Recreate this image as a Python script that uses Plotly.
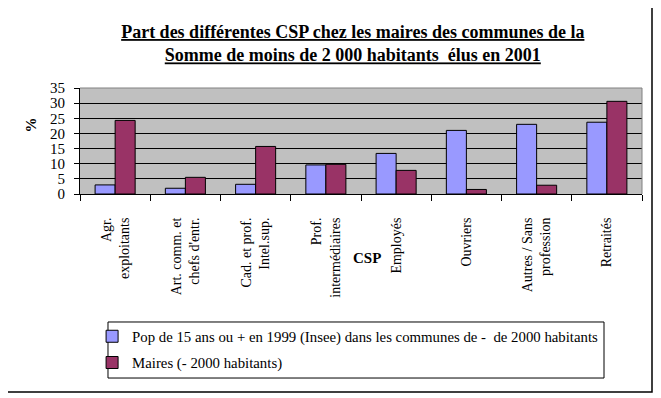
import plotly.graph_objects as go

categories = [
    "Agr.<br>exploitants",
    "Art. comm. et<br>chefs d'entr.",
    "Cad. et prof.<br>Intel.sup.",
    "Prof.<br>intermédiaires",
    "Employés",
    "Ouvriers",
    "Autres / Sans<br>profession",
    "Retraités",
]
pop_values = [3.0, 1.9, 3.2, 9.6, 13.4, 21.0, 23.0, 23.7]
maires_values = [24.3, 5.5, 15.7, 9.8, 7.8, 1.5, 2.9, 30.6]
series_names = [
    "Pop de 15 ans ou + en 1999 (Insee) dans les communes de -  de 2000 habitants",
    "Maires (- 2000 habitants)",
]
y_ticks = [0, 5, 10, 15, 20, 25, 30, 35]

FONT = "Liberation Serif, Times New Roman, serif"

fig = go.Figure()
fig.add_trace(go.Bar(x=categories, y=pop_values, name=series_names[0],
                     marker=dict(color="#9999FF", line=dict(color="black", width=1)),
                     legendgroup="a"))
fig.add_trace(go.Bar(x=categories, y=maires_values, name=series_names[1],
                     marker=dict(color="#993366", line=dict(color="black", width=1)),
                     legendgroup="b"))

# page has an 8px body margin -> figure drawn 8px right/down; compensate
fig.update_layout(
    width=653, height=390,
    margin=dict(l=72, r=19, t=80, b=204, autoexpand=False),
    paper_bgcolor="white", plot_bgcolor="#C0C0C0",
    barmode="group", bargap=0.43, bargroupgap=0,
    font=dict(family=FONT, color="black", size=14),
    title=dict(
        text="Part des différentes CSP chez les maires des communes de la<br>Somme de moins de 2 000 habitants  élus en 2001",
        font=dict(family=FONT, size=18, color="black", weight="bold", lineposition="under"),
        xref="container", x=0.528, xanchor="center",
        yref="container", y=0.923, yanchor="middle",
    ),
    showlegend=True,
    legend=dict(
        x=0.0215, y=-1.19, xanchor="left", yanchor="top",
        bgcolor="rgba(0,0,0,0)", borderwidth=0,
        font=dict(family=FONT, size=14.8, color="black"),
        traceorder="grouped", tracegroupgap=4,
    ),
)

fig.update_xaxes(
    type="category", tickangle=-90, tickson="boundaries",
    ticks="outside", ticklen=6, tickcolor="black",
    showline=True, linecolor="black", linewidth=1,
    showgrid=False, tickfont=dict(family=FONT, size=14),
    ticklabelstandoff=17,
)
fig.update_yaxes(
    range=[0, 35], tickvals=y_ticks, ticks="outside", ticklen=5, tickcolor="black",
    showline=True, linecolor="black", linewidth=1,
    showgrid=True, gridcolor="black", gridwidth=1,
    tickfont=dict(family=FONT, size=15), ticklabelstandoff=6,
    zeroline=False,
)

shapes = [
    dict(type="line", xref="paper", yref="paper", x0=0, x1=1, y0=1, y1=1,
         line=dict(color="#808080", width=1)),
    dict(type="line", xref="paper", yref="paper", x0=1, x1=1, y0=0, y1=1,
         line=dict(color="#808080", width=1)),
    dict(type="rect", xref="paper", yref="paper", x0=0.0498, x1=0.9324, y0=-1.736, y1=-1.2075,
         line=dict(color="black", width=1)),
    dict(type="rect", xref="paper", yref="paper", x0=-0.1299, x1=1.0178, y0=-1.868, y1=1.764,
         line=dict(color="black", width=1.5)),
]
fig.update_layout(shapes=shapes)

fig.add_annotation(text="<b>%</b>", xref="paper", yref="paper", x=-0.104, y=0.74,
                   textangle=-90, showarrow=False, font=dict(family=FONT, size=15, color="black"))
fig.add_annotation(text="<b>CSP</b>", xref="paper", yref="paper", x=0.5107, y=-0.70,
                   showarrow=False, font=dict(family=FONT, size=15, color="black"))

fig.write_html("out.html")
